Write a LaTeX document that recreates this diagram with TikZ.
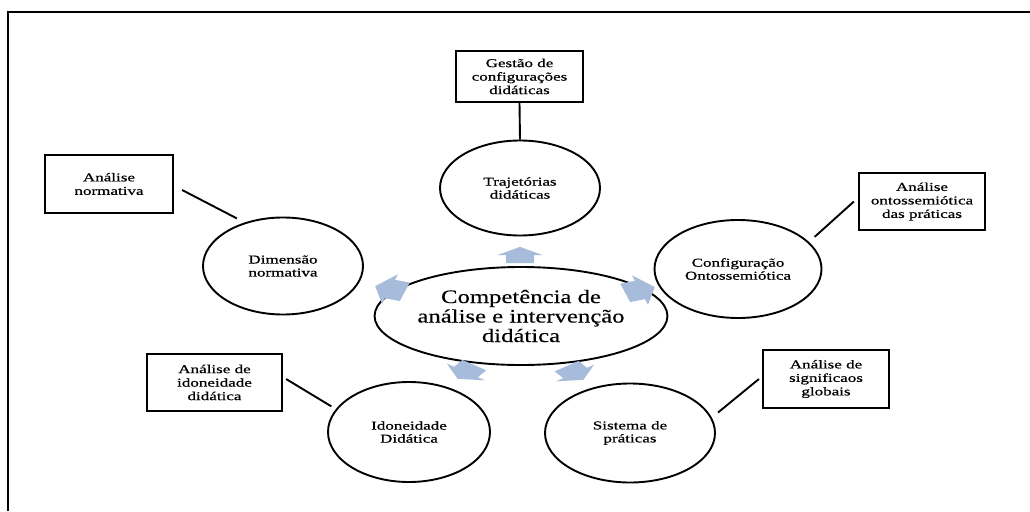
\documentclass[tikz,border=0pt]{standalone}
\usepackage{fontspec}
\setmainfont{Liberation Serif}
\newfontfamily\wf[FakeStretch=1.42,FakeBold=0.7]{Liberation Serif}
\newfontfamily\cf[FakeStretch=1.3,FakeBold=0.3]{Liberation Serif}
\usetikzlibrary{shapes.geometric,calc}
\definecolor{arrowblue}{RGB}{167,187,218}
\tikzset{
  oval/.style={draw, ellipse, line width=1.9pt, inner sep=0pt, align=center,
    font=\wf\fontsize{12}{13}\selectfont},
  abox/.style={draw, rectangle, line width=2.2pt, inner sep=0pt, align=center,
    font=\wf\fontsize{12}{13.5}\selectfont},
  link/.style={line width=1.9pt},
  barrow/.style={fill=arrowblue, draw=none}
}
\begin{document}
\begin{tikzpicture}[x=1pt,y=-1pt]
\useasboundingbox (0,0) rectangle (1030,511);
% frame
\draw[line width=1.5pt] (8,511) -- (8,12) -- (1030,12);

% nodes
\node[abox, minimum width=127pt, minimum height=51pt] (gbox) at (519.5,76.5) {Gestão de\\configurações\\didáticas};
\node[oval, minimum width=160pt, minimum height=95pt] (traj) at (520,188) {Trajetórias\\didáticas};

\node[abox, minimum width=128pt, minimum height=58pt] (nbox) at (109,184) {Análise\\normativa};
\node[oval, minimum width=160pt, minimum height=97pt] (dim) at (283,266) {Dimensão\\normativa};

\node[abox, minimum width=126pt, minimum height=57pt] (obox) at (922,201.5) {Análise\\ontossemiótica\\das práticas};
\node[oval, minimum width=167pt, minimum height=98pt] (cfg) at (738,269) {Configuração\\Ontossemiótica};

\node[oval, minimum width=238pt, minimum height=98pt, font=\cf\fontsize{19}{19.5}\selectfont] (comp) at (521,316) {Competência de\\análise e intervenção\\didática};

\node[abox, minimum width=135pt, minimum height=57pt] (ibox) at (214.5,382.5) {Análise de\\idoneidade\\didática};
\node[oval, minimum width=162pt, minimum height=100pt] (ido) at (409,432) {Idoneidade\\Didática};

\node[oval, minimum width=170pt, minimum height=99pt] (sis) at (630,433) {Sistema de\\práticas};
\node[abox, minimum width=126pt, minimum height=58pt] (sbox) at (826,379) {Análise de\\significaos\\globais};

% connectors
\draw[link] (gbox.south) -- (traj.north);
\draw[link] ([shift={(8,6)}]nbox.east) -- ([shift={(-5,-5)}]dim.134);
\draw[link] ([xshift=-4pt]obox.west) -- ([shift={(8,-3)}]cfg.23);
\draw[link] ([shift={(3,-3.5)}]ibox.east) -- ([shift={(-5,-2)}]ido.162);
\draw[link] ([xshift=-3pt]sbox.west) -- ([shift={(8,-2)}]sis.13);

% diverging block arrows
\foreach \px/\py/\a/\s in {520/255/90/1, 390/289/162/1.15, 640/290/18/1.15, 466/372/234/1.05, 575/373/306/1.05} {
  \fill[barrow, shift={(\px,\py)}, yscale=0.6, rotate=\a, scale=\s]
    (-13.5,-14) -- (0,-14) -- (0,-22.5) -- (13.5,0) -- (0,22.5) -- (0,14) -- (-13.5,14) -- cycle;
}
\end{tikzpicture}
\end{document}
